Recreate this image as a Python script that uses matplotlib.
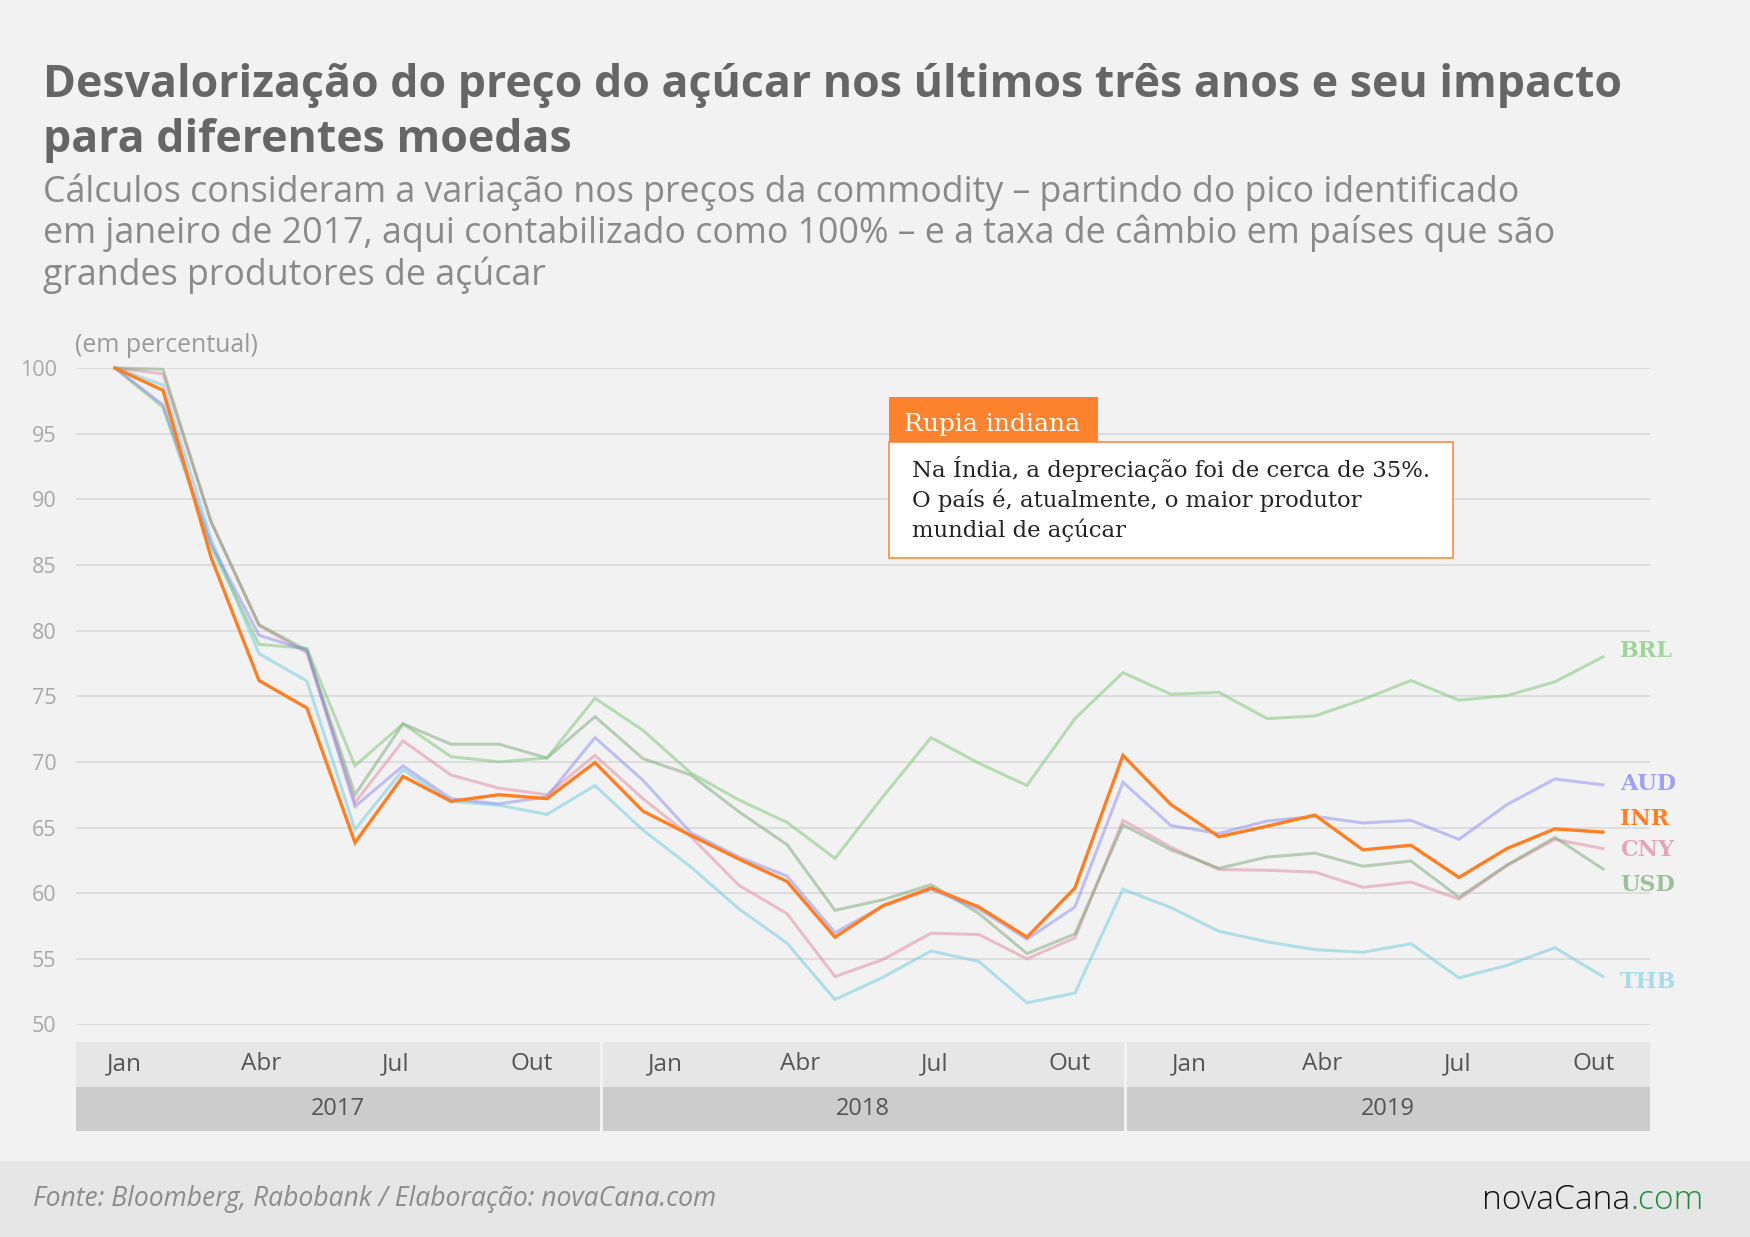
import matplotlib
matplotlib.use('Agg')
import matplotlib.pyplot as plt
from matplotlib.patches import Rectangle

# ---------------- data ----------------
months = list(range(32))  # monthly observations starting Jan 2017

INR = [100, 98.3, 85.6, 76.2, 74.1, 63.85, 68.9, 67.0, 67.5, 67.2, 69.95, 66.25,
       64.4, 62.6, 60.9, 56.65, 59.05, 60.4, 58.95, 56.65, 60.4, 70.5, 66.75, 64.3,
       65.1, 65.95, 63.3, 63.65, 61.2, 63.4, 64.9, 64.65]
AUD = [100, 97.2, 86.6, 79.65, 78.5, 66.6, 69.7, 67.2, 66.8, 67.35, 71.85, 68.6,
       64.6, 62.75, 61.3, 57.0, 59.0, 60.3, 58.8, 56.5, 58.95, 68.45, 65.15, 64.55,
       65.5, 65.85, 65.35, 65.55, 64.1, 66.75, 68.7, 68.25]
BRL = [100, 97.0, 86.4, 78.95, 78.65, 69.7, 72.9, 70.4, 70.0, 70.3, 74.85, 72.4,
       69.15, 67.1, 65.4, 62.65, 67.35, 71.85, 69.9, 68.2, 73.3, 76.8, 75.15, 75.3,
       73.3, 73.5, 74.75, 76.2, 74.7, 75.05, 76.1, 78.0]
USD = [100, 99.9, 88.3, 80.45, 78.5, 67.5, 72.9, 71.35, 71.35, 70.3, 73.45, 70.25,
       69.0, 66.2, 63.7, 58.7, 59.5, 60.65, 58.45, 55.4, 56.9, 65.2, 63.3, 61.9,
       62.75, 63.05, 62.05, 62.45, 59.7, 62.15, 64.25, 61.85]
CNY = [100, 99.55, 88.3, 80.4, 78.3, 66.9, 71.6, 69.0, 68.0, 67.5, 70.5, 67.2,
       64.3, 60.6, 58.45, 53.65, 54.95, 56.95, 56.85, 55.0, 56.6, 65.55, 63.5, 61.8,
       61.75, 61.6, 60.45, 60.85, 59.55, 62.1, 64.1, 63.4]
THB = [100, 98.7, 87.0, 78.25, 76.15, 64.85, 69.4, 67.0, 66.7, 66.0, 68.2, 64.8,
       62.0, 58.8, 56.2, 51.9, 53.6, 55.6, 54.8, 51.65, 52.4, 60.3, 58.9, 57.1,
       56.3, 55.7, 55.5, 56.15, 53.55, 54.5, 55.85, 53.65]

series_names = ['THB', 'CNY', 'USD', 'BRL', 'AUD', 'INR']
series_values = [THB, CNY, USD, BRL, AUD, INR]
y_ticks = list(range(50, 101, 5))
month_labels = ['Jan', 'Abr', 'Jul', 'Out']
year_labels = ['2017', '2018', '2019']

title_lines = ['Desvalorização do preço do açúcar nos últimos três anos e seu impacto',
               'para diferentes moedas']
subtitle_lines = ['Cálculos consideram a variação nos preços da commodity – partindo do pico identificado',
                  'em janeiro de 2017, aqui contabilizado como 100% – e a taxa de câmbio em países que são',
                  'grandes produtores de açúcar']
note_title = 'Rupia indiana'
note_lines = ['Na Índia, a depreciação foi de cerca de 35%.',
              'O país é, atualmente, o maior produtor',
              'mundial de açúcar']
source = 'Fonte: Bloomberg, Rabobank / Elaboração: novaCana.com'
logo_main, logo_tail = 'novaCana', '.com'

# ---------------- styles ----------------
line_style = {
    'THB': ('#79cde0', 0.55, 2.2),
    'CNY': ('#df8aa2', 0.5, 2.2),
    'USD': ('#6d9f6d', 0.45, 2.2),
    'BRL': ('#7cc576', 0.5, 2.2),
    'AUD': ('#8080f0', 0.45, 2.2),
    'INR': ('#ff7f27', 1.0, 2.4),
}
label_color = {'BRL': '#9fd49b', 'AUD': '#a0a0f2', 'INR': '#ff7f27',
               'CNY': '#e3a6b8', 'USD': '#9dbf9d', 'THB': '#a6dbe8'}
label_y = {'BRL': 651, 'AUD': 784, 'INR': 819, 'CNY': 850, 'USD': 885, 'THB': 982}

plt.rcParams['font.family'] = ['Open Sans', 'DejaVu Sans']

W, H = 1750, 1237
fig = plt.figure(figsize=(W / 100, H / 100), dpi=100)
fig.patch.set_facecolor('#f2f2f2')
renderer = fig.canvas.get_renderer()


def fx(x):
    return x / W


def fy(y):
    return 1 - y / H


def fit(t, target):
    w = t.get_window_extent(renderer).width
    t.set_fontsize(t.get_fontsize() * target / w)
    return t.get_fontsize()


# footer band
fig.add_artist(Rectangle((0, 0), 1, fy(1161), transform=fig.transFigure,
                         facecolor='#e6e6e6', edgecolor='none', zorder=0))

# ---------------- main axes ----------------
ax = fig.add_axes([fx(76), fy(1024.5), fx(1650) - fx(76), fy(368) - fy(1024.5)])
ax.set_facecolor('none')
ax.set_xlim(-0.8125, 31.98)
ax.set_ylim(50, 100)
ax.set_yticks(y_ticks)
ax.set_xticks([])
ax.grid(axis='y', color='#d9d9d9', lw=1.2)
ax.set_axisbelow(True)
for s in ax.spines.values():
    s.set_visible(False)
ax.tick_params(axis='y', length=0, pad=14, labelsize=15.5, labelcolor='#a8a8a8')

for name, vals in zip(series_names, series_values):
    c, a, lw = line_style[name]
    ax.plot(months, vals, color=c, alpha=a, lw=lw, clip_on=False,
            solid_joinstyle='miter', zorder=3 if name == 'INR' else 2)

for name in series_names:
    fig.text(fx(1620), fy(label_y[name]), name, color=label_color[name],
             fontsize=16, fontweight='bold', family='DejaVu Serif',
             ha='left', va='center')

pe = fig.text(fx(75), fy(345), '(em percentual)', color='#9a9a9a', fontsize=16,
              ha='left', va='center')
fit(pe, 183)

# ---------------- x band ----------------
bx = fig.add_axes([fx(76), fy(1131), fx(1650) - fx(76), fy(1042) - fy(1131)])
bx.set_xlim(0, 3)
bx.set_ylim(0, 2)
bx.axis('off')
for i, yl in enumerate(year_labels):
    bx.add_patch(Rectangle((i, 1), 1, 1, facecolor='#e6e6e6', edgecolor='none'))
    bx.add_patch(Rectangle((i, 0), 1, 1, facecolor='#cccccc', edgecolor='none'))
    bx.text(i + 0.5, 0.5, yl, ha='center', va='center', fontsize=17, color='#555555')
for b in (1, 2):
    bx.axvline(b, color='#f2f2f2', lw=2.2)
month_pos = [[0.092, 0.352, 0.61, 0.868], [0.124, 0.381, 0.636, 0.893],
             [0.122, 0.376, 0.633, 0.892]]
for i in range(3):
    for m, p in zip(month_labels, month_pos[i]):
        bx.text(i + p, 1.5, m, ha='center', va='center', fontsize=17.5, color='#555555')

# ---------------- titles ----------------
t1 = fig.text(fx(43), fy(97), title_lines[0], fontsize=30, fontweight='bold',
              color='#666666', ha='left', va='baseline')
fs = fit(t1, 1576)
fig.text(fx(43), fy(152), title_lines[1], fontsize=fs, fontweight='bold',
         color='#666666', ha='left', va='baseline')

s1 = fig.text(fx(43), fy(202), subtitle_lines[0], fontsize=20, color='#8a8a8a',
              ha='left', va='baseline')
fs2 = fit(s1, 1474)
for ln, yb in zip(subtitle_lines[1:], (243, 285)):
    fig.text(fx(43), fy(yb), ln, fontsize=fs2, color='#8a8a8a', ha='left', va='baseline')

# ---------------- annotation ----------------
fig.add_artist(Rectangle((fx(889), fy(558)), fx(1453) - fx(889), fy(442) - fy(558),
                         transform=fig.transFigure, facecolor='white',
                         edgecolor='#ff8a3d', lw=1.2, zorder=5))
fig.add_artist(Rectangle((fx(889), fy(442)), fx(1098) - fx(889), fy(397) - fy(442),
                         transform=fig.transFigure, facecolor='#ff832f',
                         edgecolor='none', zorder=5))
nt = fig.text(fx(904), fy(431), note_title, color='white', fontsize=16,
              family='DejaVu Serif', ha='left', va='baseline', zorder=6)
fit(nt, 176)
n1 = fig.text(fx(912), fy(477), note_lines[0], color='#222222', fontsize=14,
              family='DejaVu Serif', ha='left', va='baseline', zorder=6)
fs3 = fit(n1, 520)
for ln, yb in zip(note_lines[1:], (507, 537)):
    fig.text(fx(912), fy(yb), ln, color='#222222', fontsize=fs3,
             family='DejaVu Serif', ha='left', va='baseline', zorder=6)

# ---------------- footer ----------------
f1 = fig.text(fx(33), fy(1199), source, color='#8c8c8c', fontsize=17, style='italic',
              ha='left', va='center')
fit(f1, 684)

probe = fig.text(0, 0, logo_main + logo_tail, fontsize=20, fontweight='light')
lfs = 20 * 221 / probe.get_window_extent(renderer).width
probe.remove()
logo = fig.text(fx(1482), fy(1209), logo_main, color='#111111', fontsize=lfs,
                fontweight='light', ha='left', va='baseline')
ax.annotate(logo_tail, xy=(1, 0), xycoords=logo, xytext=(0, 0), textcoords='offset points',
            color='#1a8c3c', fontsize=lfs, fontweight='light', ha='left', va='bottom',
            annotation_clip=False)

fig.savefig('out.png', dpi=100, facecolor=fig.get_facecolor())
